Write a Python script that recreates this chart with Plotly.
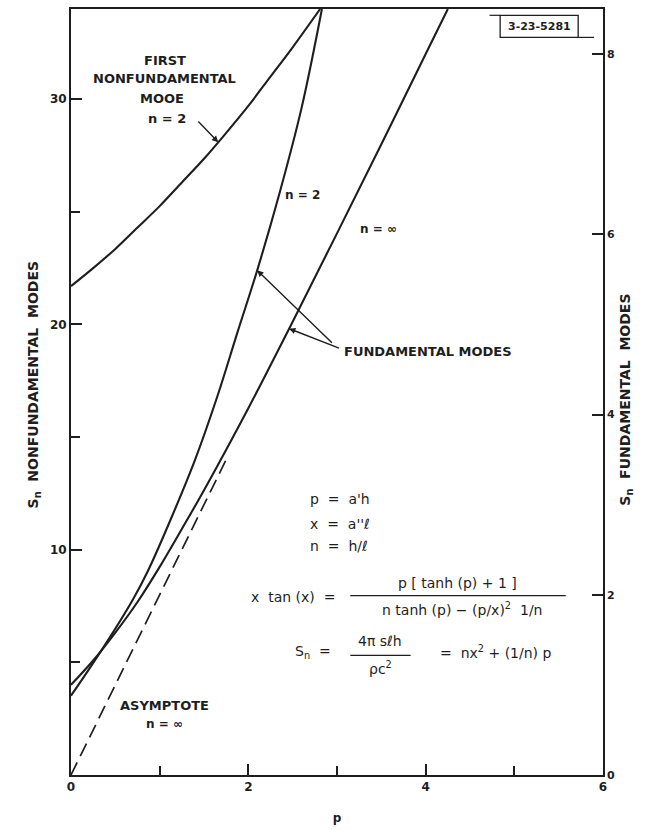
import numpy as np
import plotly.graph_objects as go

# First nonfundamental mode, n = 2 (left axis)
p_nonfund = [0.0, 0.25, 0.5, 0.75, 1.0, 1.25, 1.5, 1.75, 2.0, 2.25, 2.5, 2.81]
s_nonfund = [21.7, 22.5, 23.35, 24.3, 25.25, 26.3, 27.35, 28.5, 29.7, 31.0, 32.3, 34.0]

# Fundamental mode, n = 2 (right axis)
p_fund2 = [0.0, 0.2, 0.44, 0.7, 0.87, 1.1, 1.4, 1.65, 1.88, 2.1, 2.35, 2.6, 2.83]
s_fund2 = [0.88, 1.17, 1.53, 1.95, 2.27, 2.78, 3.5, 4.2, 4.92, 5.6, 6.45, 7.4, 8.5]

# Fundamental mode, n = infinity (right axis)
p_fundinf = [0.0, 0.25, 0.5, 0.75, 1.0, 1.25, 1.5, 2.0, 2.5, 3.0, 3.5, 4.0, 4.25]
s_fundinf = [1.0, 1.27, 1.58, 1.92, 2.31, 2.73, 3.16, 4.07, 5.03, 6.01, 7.0, 8.0, 8.5]

# Asymptote for n = infinity (right axis)
p_asym = [0.0, 1.75]
s_asym = [0.0, 3.5]

x_ticks = [0, 2, 4, 6]
x_minor = [1, 3, 5]
yl_ticks = [10, 20, 30]
yl_minor = [5, 15, 25]
yr_ticks = [0, 2, 4, 6, 8]

INK = "#1e1e1e"
FONT = "DejaVu Sans"

fig = go.Figure()
line = dict(color=INK, width=2.1)
fig.add_trace(go.Scatter(x=p_nonfund, y=s_nonfund, mode="lines", line=dict(line, shape="spline"),
                         yaxis="y", showlegend=False, hoverinfo="skip"))
fig.add_trace(go.Scatter(x=p_fund2, y=s_fund2, mode="lines", line=dict(line, shape="spline"),
                         yaxis="y2", showlegend=False, hoverinfo="skip"))
fig.add_trace(go.Scatter(x=p_fundinf, y=s_fundinf, mode="lines", line=dict(line, shape="spline"),
                         yaxis="y2", showlegend=False, hoverinfo="skip"))
fig.add_trace(go.Scatter(x=p_asym, y=s_asym, mode="lines",
                         line=dict(color=INK, width=1.7, dash="14px,7px"),
                         yaxis="y2", showlegend=False, hoverinfo="skip"))

tickfont = dict(family=FONT, size=12, color=INK, weight="bold")
fig.update_layout(
    width=654, height=830,
    margin=dict(l=71, r=51, t=7, b=55),
    paper_bgcolor="white", plot_bgcolor="white",
    xaxis=dict(range=[0, 6], tickvals=x_ticks, ticks="inside", ticklen=11, tickwidth=1.5,
               tickcolor=INK, showline=True, linecolor=INK, linewidth=1.8, mirror=True,
               showgrid=False, zeroline=False, tickfont=tickfont,
               minor=dict(tickvals=x_minor, ticks="inside", ticklen=9, tickwidth=1.5, tickcolor=INK),
               title=dict(text="p", font=dict(family=FONT, size=12, color=INK, weight="bold"), standoff=20)),
    yaxis=dict(range=[0, 34], tickvals=yl_ticks, ticks="inside", ticklen=11, tickwidth=1.5,
               tickcolor=INK, showline=True, linecolor=INK, linewidth=1.8,
               showgrid=False, zeroline=False, tickfont=tickfont,
               minor=dict(tickvals=yl_minor, ticks="inside", ticklen=9, tickwidth=1.5, tickcolor=INK)),
    yaxis2=dict(range=[0, 8.5], tickvals=yr_ticks, ticks="inside", ticklen=11, tickwidth=1.5,
                tickcolor=INK, showline=True, linecolor=INK, linewidth=1.8,
                overlaying="y", side="right", showgrid=False, zeroline=False,
                tickfont=dict(tickfont, size=11)),
)

ann = []


def label(x, y, text, size=13, xanchor="center", ref="y", weight="bold", **kw):
    ann.append(dict(x=x, y=y, xref="x", yref=ref, text=text, showarrow=False,
                    xanchor=xanchor, yanchor="middle",
                    font=dict(family=FONT, size=size, color=INK, weight=weight), **kw))


# Curve labels
label(1.06, 31.73, "FIRST")
label(1.05, 30.93, "NONFUNDAMENTAL")
label(1.03, 30.04, "MOOE")
label(1.08, 29.12, "n = 2")
label(2.61, 25.75, "n = 2", size=12)
label(3.47, 24.25, "n = ∞", size=12)
label(3.06, 18.81, "FUNDAMENTAL MODES", xanchor="left")
label(1.06, 3.10, "ASYMPTOTE")
label(1.06, 2.26, "n = ∞", size=12)

# Definitions and equations
eq = dict(size=14, weight="normal")
label(2.67, 12.26, "p  =  a'h", xanchor="left", **eq)
label(2.67, 11.15, "x  =  a''ℓ", xanchor="left", **eq)
label(2.67, 10.18, "n  =  h/ℓ", xanchor="left", **eq)
label(3.0, 7.88, "x  tan (x)  =", xanchor="right", **eq)
label(4.36, 8.54, "p [ tanh (p) + 1 ]", **eq)
label(4.41, 7.35, "n tanh (p) − (p/x)<sup>2</sup>  1/n", **eq)
label(2.96, 5.44, "S<sub>n</sub>  =", xanchor="right", **eq)
label(3.49, 5.97, "4π sℓh", **eq)
label(3.49, 4.73, "ρc<sup>2</sup>", **eq)
label(4.14, 5.44, "=  nx<sup>2</sup> + (1/n) p", xanchor="left", **eq)

# Drawing number box
label(5.28, 33.23, "3-23-5281", size=11)

# Axis titles
ann.append(dict(x=-0.090, y=0.51, xref="paper", yref="paper", showarrow=False, textangle=-90,
                text="S<sub>n</sub>  NONFUNDAMENTAL  MODES",
                font=dict(family=FONT, size=14, color=INK, weight="bold")))
ann.append(dict(x=1.064, y=0.49, xref="paper", yref="paper", showarrow=False, textangle=-90,
                text="S<sub>n</sub>  FUNDAMENTAL  MODES",
                font=dict(family=FONT, size=14, color=INK, weight="bold")))


def pointer(tail, tip_p, xs, ys, ref):
    tip_s = float(np.interp(tip_p, xs, ys))
    ann.append(dict(x=tip_p, y=tip_s, xref="x", yref=ref, ax=tail[0], ay=tail[1],
                    axref="x", ayref=ref, showarrow=True, text="",
                    arrowhead=2, arrowsize=0.9, arrowwidth=1.4, arrowcolor=INK, standoff=0))


pointer((1.42, 29.07), 1.66, p_nonfund, s_nonfund, "y")
pointer((2.96, 4.78), 2.10, p_fund2, s_fund2, "y2")
pointer((3.04, 4.73), 2.46, p_fundinf, s_fundinf, "y2")

fig.update_layout(annotations=ann)

# Fraction bars and the drawing-number frame
shapes = [
    dict(type="line", xref="x", yref="y", x0=3.15, x1=5.58, y0=7.96, y1=7.96,
         line=dict(color=INK, width=1.4)),
    dict(type="line", xref="x", yref="y", x0=3.15, x1=3.83, y0=5.31, y1=5.31,
         line=dict(color=INK, width=1.4)),
    dict(type="rect", xref="x", yref="y", x0=4.84, x1=5.72, y0=32.74, y1=33.72,
         line=dict(color=INK, width=1.3)),
    dict(type="line", xref="x", yref="y", x0=5.72, x1=5.90, y0=32.74, y1=32.74,
         line=dict(color=INK, width=1.2)),
    dict(type="line", xref="x", yref="y", x0=4.72, x1=4.84, y0=33.72, y1=33.72,
         line=dict(color=INK, width=1.2)),
]
fig.update_layout(shapes=shapes)

fig.write_html("out.html")
